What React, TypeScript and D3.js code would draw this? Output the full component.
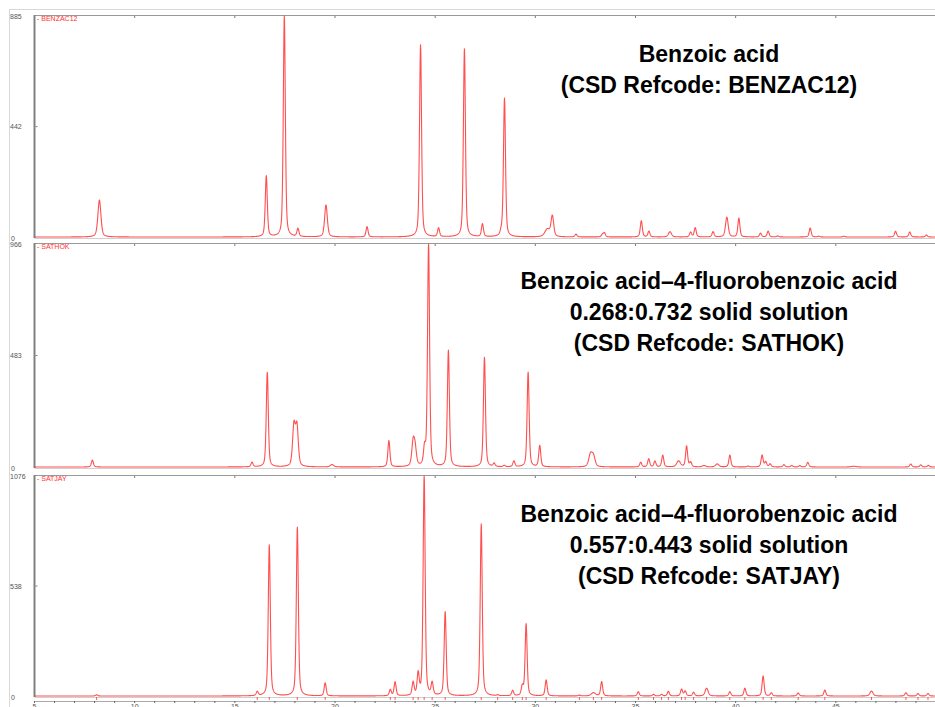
import React from "react";
import * as d3 from "d3";

const W = 935;
const H = 707;

// Peak lists: [2θ (deg), intensity, optional FWHM (deg)]
const benzac12Peaks: number[][] = [
  [8.24, 148, 0.18],
  [16.57, 244],
  [17.47, 885],
  [18.15, 32],
  [19.55, 128, 0.16],
  [21.6, 41],
  [24.27, 769],
  [25.17, 35],
  [26.46, 753],
  [27.36, 51],
  [28.3, 14],
  [28.46, 555],
  [30.6, 30, 0.3],
  [30.85, 82, 0.16],
  [32.03, 11],
  [33.35, 10],
  [33.45, 16],
  [35.29, 65],
  [35.67, 23],
  [36.72, 21, 0.18],
  [37.75, 19],
  [37.98, 37],
  [38.87, 21],
  [39.56, 79, 0.16],
  [40.16, 75],
  [41.24, 15],
  [41.62, 23],
  [42.1, 4],
  [43.72, 36],
  [44.15, 3],
  [45.4, 3],
  [47.98, 23],
  [48.69, 20],
  [49.52, 8],
];

const sathokPeaks: number[][] = [
  [7.89, 30],
  [15.86, 20],
  [16.62, 410],
  [17.95, 175, 0.16],
  [18.1, 170, 0.16],
  [19.85, 10, 0.2],
  [22.69, 114],
  [23.9, 100, 0.16],
  [24.0, 70, 0.16],
  [24.47, 71],
  [24.67, 966],
  [25.66, 504],
  [27.46, 474],
  [27.94, 14],
  [28.45, 6],
  [28.93, 25],
  [29.64, 410],
  [30.22, 92],
  [32.75, 52, 0.2],
  [32.9, 45, 0.2],
  [35.26, 20],
  [35.66, 35],
  [35.97, 25],
  [36.36, 51],
  [37.15, 26, 0.22],
  [37.55, 90],
  [37.75, 20],
  [38.42, 6, 0.2],
  [39.08, 13, 0.2],
  [39.71, 51],
  [40.62, 4],
  [41.32, 51],
  [41.5, 22],
  [41.72, 13],
  [42.41, 10],
  [42.8, 6],
  [43.2, 6],
  [43.6, 20],
  [45.9, 3, 0.3],
  [48.74, 13],
  [49.24, 9],
  [49.62, 7],
];

const satjayPeaks: number[][] = [
  [8.1, 6],
  [16.12, 20],
  [16.72, 739],
  [18.12, 826],
  [19.51, 64],
  [22.76, 30],
  [23.0, 68],
  [23.9, 64],
  [24.15, 103],
  [24.45, 1076],
  [24.85, 60],
  [25.5, 411],
  [27.3, 841],
  [28.12, 4],
  [28.87, 26],
  [29.35, 44],
  [29.54, 352],
  [30.54, 78],
  [32.2, 4],
  [32.9, 16, 0.25],
  [33.31, 70],
  [35.14, 21],
  [35.9, 8],
  [36.3, 8],
  [36.64, 23],
  [37.3, 33],
  [37.48, 24],
  [37.9, 18],
  [38.55, 38, 0.18],
  [39.71, 21],
  [40.46, 38],
  [41.37, 98],
  [41.78, 15],
  [43.12, 15],
  [44.45, 29],
  [46.78, 24, 0.18],
  [48.5, 16],
  [49.1, 12],
  [49.6, 12],
];

const patternNames = ["BENZAC12", "SATHOK", "SATJAY"];
const patternMax = [885, 966, 1076];
const patternMid = [442, 483, 538];
const patternPeaks = [benzac12Peaks, sathokPeaks, satjayPeaks];

const captions = [
  ["Benzoic acid", "(CSD Refcode: BENZAC12)"],
  ["Benzoic acid\u20134-fluorobenzoic acid", "0.268:0.732 solid solution", "(CSD Refcode: SATHOK)"],
  ["Benzoic acid\u20134-fluorobenzoic acid", "0.557:0.443 solid solution", "(CSD Refcode: SATJAY)"],
];

const xTicks = [5, 10, 15, 20, 25, 30, 35, 40, 45];
const xMinorTicks = d3.range(5, 50, 1);

// panel geometry
const plotLeft = 34.5;
const panelBands = [
  [16, 237],
  [244, 467],
  [476, 696],
];
const captionCenters = [
  [54, 85],
  [281, 312, 343],
  [514, 545, 576],
];
const captionX = [709, 709, 709];

const x = d3.scaleLinear().domain([5, 49.95]).range([plotLeft, W]);

// pseudo-Voigt profile summed over the peak list
function profile(peaks: number[][]) {
  const pts: [number, number][] = [];
  const eta = 0.45;
  for (let t = 5; t <= 49.96; t += 0.01) {
    let s = 0;
    for (const p of peaks) {
      const w = p[2] ?? 0.12;
      const d = (t - p[0]) / (w / 2);
      const lor = 1 / (1 + d * d);
      const gau = Math.exp(-Math.LN2 * d * d);
      s += p[1] * (eta * lor + (1 - eta) * gau);
    }
    pts.push([t, s]);
  }
  return pts;
}

const RED = "#ff3030";
const FONT = "'Liberation Sans', Arial, sans-serif";

export default function App() {
  return (
    <svg
      width={W}
      height={H}
      style={{ position: "absolute", left: 0, top: 0, background: "#fff" }}
      fontFamily={FONT}
    >
      <rect width={W} height={H} fill="#fff" />
      {/* outer frame */}
      <line x1={9.5} y1={9.5} x2={W} y2={9.5} stroke="#d8d8d8" />
      <line x1={9.5} y1={9.5} x2={9.5} y2={H} stroke="#d8d8d8" />

      {patternNames.map((name, i) => {
        const [top, base] = panelBands[i];
        const y = d3.scaleLinear().domain([0, patternMax[i]]).range([base, top]);
        const pts = profile(patternPeaks[i]).map(([t, v]) => [t, Math.min(v, patternMax[i])] as [number, number]);
        const line = d3
          .line<[number, number]>()
          .x((d) => x(d[0]))
          .y((d) => y(d[1]));
        const mid = patternMid[i];
        return (
          <g key={name}>
            {/* top edge with ticks */}
            <line x1={plotLeft} y1={top - 0.5} x2={W} y2={top - 0.5} stroke="#999" />
            {xTicks.map((t) => (
              <line key={t} x1={x(t)} x2={x(t)} y1={top} y2={top + 2} stroke="#777" />
            ))}
            {/* baseline */}
            <line x1={plotLeft} y1={base + 1.5} x2={W} y2={base + 1.5} stroke="#d0d0d0" />
            {/* y axis */}
            <line x1={plotLeft} y1={top - 1} x2={plotLeft} y2={base + 1} stroke="#808080" strokeWidth={2} />
            <line x1={plotLeft + 1} y1={y(mid)} x2={plotLeft + 3} y2={y(mid)} stroke="#808080" />
            <text x={10} y={y(patternMax[i]) + 2.5} fontSize={7} fill="#555">
              {patternMax[i]}
            </text>
            <text x={10} y={y(mid) + 2.5} fontSize={7} fill="#555">
              {mid}
            </text>
            <text x={11} y={base + 3.5} fontSize={7} fill="#555">
              0
            </text>
            {/* pattern name */}
            <text x={37} y={top + 5} fontSize={7} fill={RED}>
              {"- " + name}
            </text>
            {/* diffraction profile */}
            <path d={line(pts) ?? ""} fill="none" stroke={RED} strokeWidth={1.1} strokeOpacity={0.85} strokeLinejoin="round" />
            {/* caption */}
            {captions[i].map((c, k) => (
              <text
                key={k}
                x={captionX[i]}
                y={captionCenters[i][k] + 8}
                textAnchor="middle"
                fontSize={23}
                fontWeight="bold"
                fill="#000"
              >
                {c}
              </text>
            ))}
          </g>
        );
      })}

      {/* reflection markers under the last pattern */}
      {satjayPeaks.map((p, k) => (
        <line key={k} x1={x(p[0])} x2={x(p[0])} y1={697} y2={700} stroke={RED} strokeOpacity={0.8} />
      ))}

      {/* 2θ axis */}
      <line x1={plotLeft} y1={701.5} x2={W} y2={701.5} stroke="#aaa" />
      {xMinorTicks.map((t) => (
        <line key={t} x1={x(t)} x2={x(t)} y1={701} y2={703} stroke="#666" />
      ))}
      {xTicks.map((t) => (
        <text key={t} x={x(t)} y={709} textAnchor="middle" fontSize={7} fill="#555">
          {t}
        </text>
      ))}
    </svg>
  );
}
